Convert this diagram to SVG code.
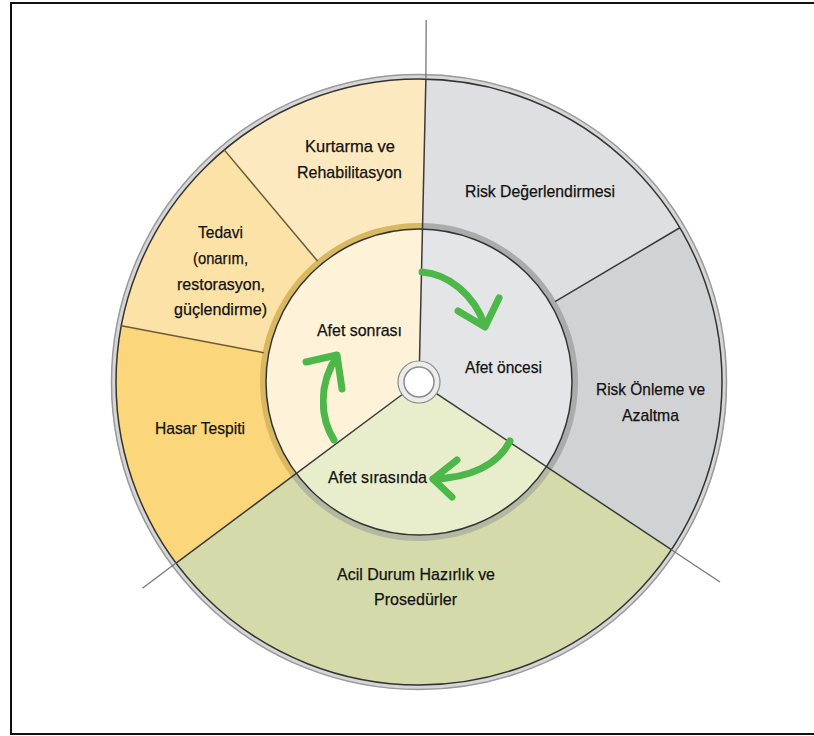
<svg xmlns="http://www.w3.org/2000/svg" width="814" height="736" viewBox="0 0 814 736">
<style>
  .lbl { font-family: "Liberation Sans", Arial, sans-serif; font-size: 17px; fill: #111; stroke: #111; stroke-width: 0.25; text-anchor: middle; }
  .div { stroke: #3a3a3a; stroke-width: 1.5; fill: none; }
  .divy { stroke: #6b5a35; stroke-width: 1.5; fill: none; }
  .ext { stroke: #777; stroke-width: 1.3; fill: none; }
  .arrow { stroke: #4db749; stroke-width: 7; fill: none; stroke-linecap: round; stroke-linejoin: round; filter: url(#soft); }
</style>
<defs>
  <filter id="soft" x="-20%" y="-20%" width="140%" height="140%">
    <feGaussianBlur stdDeviation="0.7"/>
  </filter>
</defs>
<rect x="0" y="0" width="814" height="736" fill="#ffffff"/>
<path d="M 814 3 L 11 3 L 11 734 L 814 734" fill="none" stroke="#111" stroke-width="2"/>

<!-- outer ring -->
<circle cx="419" cy="382" r="305.5" fill="none" stroke="#d6d6d6" stroke-width="5"/>
<circle cx="419" cy="382" r="307.5" fill="none" stroke="#9a9a9a" stroke-width="1.5"/>

<g id="risk-degerlendirmesi">
  <path d="M 425.88 79.08 A 303 303 0 0 1 679.80 227.76 L 554.14 302.08 A 157 157 0 0 0 422.56 225.04 Z" fill="#dedfe0"/>
  <text class="lbl" x="540" y="197" textLength="150" lengthAdjust="spacingAndGlyphs">Risk Değerlendirmesi</text>
</g>
<g id="risk-onleme">
  <path d="M 679.80 227.76 A 303 303 0 0 1 671.37 549.68 L 549.77 468.88 A 157 157 0 0 0 554.14 302.08 Z" fill="#d1d2d4"/>
  <text class="lbl" x="650.5" y="395" textLength="109" lengthAdjust="spacingAndGlyphs">Risk Önleme ve</text>
  <text class="lbl" x="650.5" y="421" textLength="57" lengthAdjust="spacingAndGlyphs">Azaltma</text>
</g>
<g id="acil-durum">
  <path d="M 671.37 549.68 A 303 303 0 0 1 176.06 563.08 L 293.12 475.83 A 157 157 0 0 0 549.77 468.88 Z" fill="#d5daab"/>
  <text class="lbl" x="416" y="580" textLength="158" lengthAdjust="spacingAndGlyphs">Acil Durum Hazırlık ve</text>
  <text class="lbl" x="415.5" y="605" textLength="83" lengthAdjust="spacingAndGlyphs">Prosedürler</text>
</g>
<g id="hasar-tespiti">
  <path d="M 176.06 563.08 A 303 303 0 0 1 121.27 325.74 L 264.73 352.85 A 157 157 0 0 0 293.12 475.83 Z" fill="#fbd67a"/>
  <text class="lbl" x="200" y="434" textLength="90" lengthAdjust="spacingAndGlyphs">Hasar Tespiti</text>
</g>
<g id="tedavi">
  <path d="M 121.27 325.74 A 303 303 0 0 1 224.23 149.89 L 318.08 261.73 A 157 157 0 0 0 264.73 352.85 Z" fill="#fce2a6"/>
  <text class="lbl" x="220.5" y="238" textLength="45" lengthAdjust="spacingAndGlyphs">Tedavi</text>
  <text class="lbl" x="220.5" y="263.5" textLength="55" lengthAdjust="spacingAndGlyphs">(onarım,</text>
  <text class="lbl" x="221" y="289.5" textLength="88" lengthAdjust="spacingAndGlyphs">restorasyon,</text>
  <text class="lbl" x="220.5" y="315" textLength="93" lengthAdjust="spacingAndGlyphs">güçlendirme)</text>
</g>
<g id="kurtarma">
  <path d="M 224.23 149.89 A 303 303 0 0 1 425.88 79.08 L 422.56 225.04 A 157 157 0 0 0 318.08 261.73 Z" fill="#fde9c0"/>
  <text class="lbl" x="350" y="152" textLength="90" lengthAdjust="spacingAndGlyphs">Kurtarma ve</text>
  <text class="lbl" x="349.5" y="178" textLength="105" lengthAdjust="spacingAndGlyphs">Rehabilitasyon</text>
</g>

<circle cx="419" cy="382" r="303" fill="none" stroke="#333" stroke-width="1.5"/>

<!-- band between inner and outer -->
<path d="M 422.54 226.04 A 156 156 0 0 1 548.94 468.33" fill="none" stroke="#a9acaa" stroke-width="6"/>
<path d="M 548.94 468.33 A 156 156 0 0 1 293.92 475.23" fill="none" stroke="#b3b8a2" stroke-width="6"/>
<path d="M 293.92 475.23 A 156 156 0 0 1 422.54 226.04" fill="none" stroke="#d9b862" stroke-width="6"/>

<g id="afet-oncesi">
  <path d="M 419 382 L 422.47 229.04 A 153 153 0 0 1 546.44 466.67 Z" fill="#e4e5e7"/>
  <text class="lbl" x="503.5" y="373" textLength="77" lengthAdjust="spacingAndGlyphs">Afet öncesi</text>
</g>
<g id="afet-sirasinda">
  <path d="M 419 382 L 546.44 466.67 A 153 153 0 0 1 296.33 473.44 Z" fill="#e8eecc"/>
  <text class="lbl" x="377.5" y="483" textLength="99" lengthAdjust="spacingAndGlyphs">Afet sırasında</text>
</g>
<g id="afet-sonrasi">
  <path d="M 419 382 L 296.33 473.44 A 153 153 0 0 1 422.47 229.04 Z" fill="#fef2d8"/>
  <text class="lbl" x="359.5" y="336" textLength="85" lengthAdjust="spacingAndGlyphs">Afet sonrası</text>
</g>

<circle cx="419" cy="382" r="153" fill="none" stroke="#333" stroke-width="1.5"/>

<g id="connectors">
  <line class="div" x1="419.48" y1="361" x2="425.88" y2="79.08"/>
  <line class="ext" x1="425.88" y1="79.08" x2="426.2" y2="20"/>
  <line class="div" x1="436.5" y1="393.6" x2="671.37" y2="549.68"/>
  <line class="ext" x1="671.37" y1="549.68" x2="720" y2="582"/>
  <line class="div" x1="402.2" y1="394.5" x2="176.06" y2="563.08"/>
  <line class="ext" x1="176.06" y1="563.08" x2="142.4" y2="588.2"/>
  <line class="div" x1="555.0" y1="301.6" x2="679.80" y2="227.76"/>
  <line class="divy" x1="263.8" y1="352.7" x2="121.27" y2="325.74"/>
  <line class="divy" x1="317.5" y1="261.0" x2="224.23" y2="149.89"/>
  <path class="arrow" d="M 422 272 C 448 274, 474 294, 485 326"/>
  <path class="arrow" d="M 458 311 L 485 327 L 499 298"/>
  <path class="arrow" d="M 510 441 C 498 465, 470 478, 433 479"/>
  <path class="arrow" d="M 457 460 L 433 479 L 452 497"/>
  <path class="arrow" d="M 334 440 C 320 418, 318 385, 337 356"/>
  <path class="arrow" d="M 306 362 L 337 355 L 342 389"/>
</g>

<g id="hub">
  <circle cx="419" cy="382" r="21" fill="#ececec" stroke="#8a8a8a" stroke-width="1.2"/>
  <circle cx="419" cy="382" r="15" fill="#ffffff" stroke="#8a8a8a" stroke-width="1.5"/>
</g>
</svg>
